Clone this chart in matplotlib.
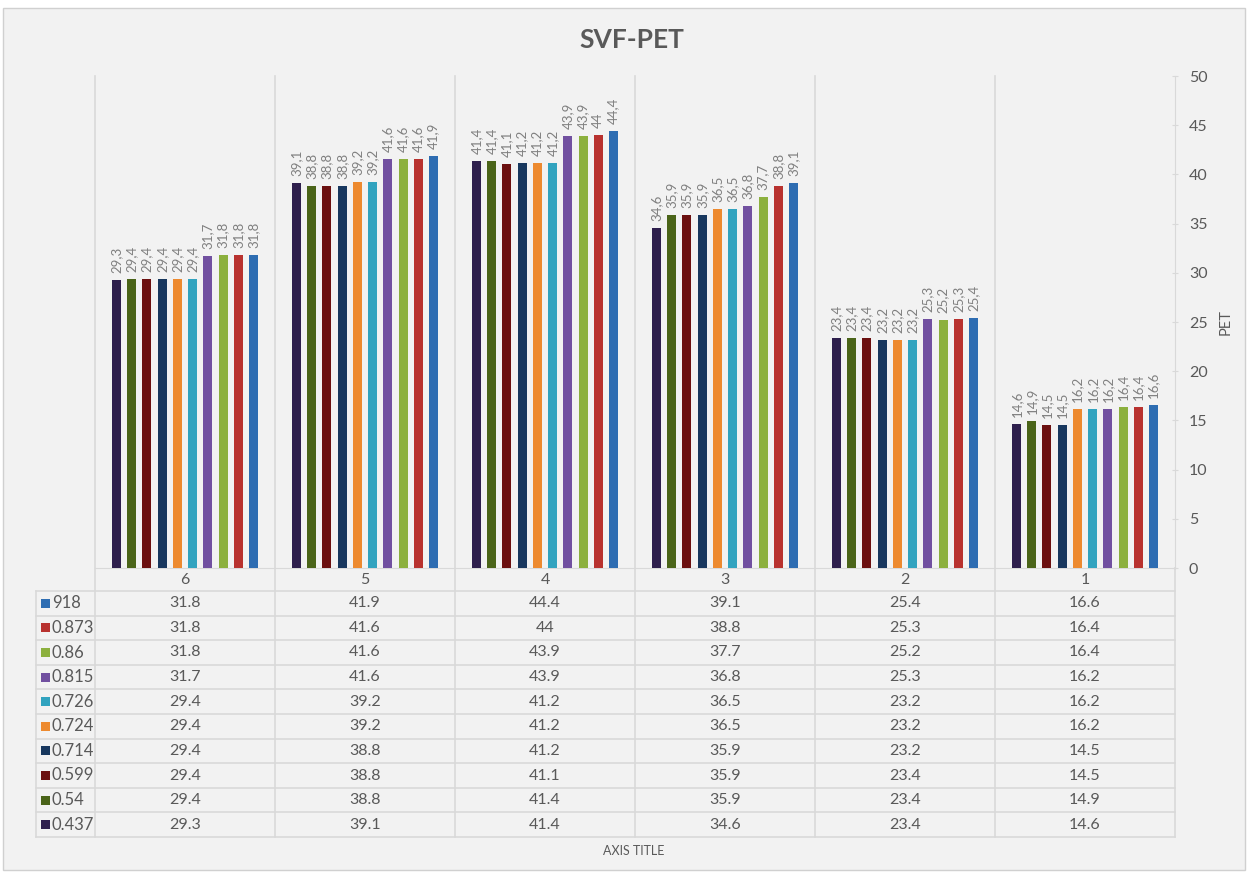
import matplotlib.pyplot as plt
from matplotlib.patches import Rectangle
from matplotlib.lines import Line2D

categories = ['6', '5', '4', '3', '2', '1']
series_names = ['0.437', '0.54', '0.599', '0.714', '0.724', '0.726', '0.815', '0.86', '0.873', '918']
series_colors = ['#2e1f4d', '#4a6419', '#6b1010', '#17375e', '#ed8a2f', '#31a3bf',
                 '#7150a0', '#8cb03e', '#b8322f', '#2e6db2']
values = {
    '0.437': [29.3, 39.1, 41.4, 34.6, 23.4, 14.6],
    '0.54':  [29.4, 38.8, 41.4, 35.9, 23.4, 14.9],
    '0.599': [29.4, 38.8, 41.1, 35.9, 23.4, 14.5],
    '0.714': [29.4, 38.8, 41.2, 35.9, 23.2, 14.5],
    '0.724': [29.4, 39.2, 41.2, 36.5, 23.2, 16.2],
    '0.726': [29.4, 39.2, 41.2, 36.5, 23.2, 16.2],
    '0.815': [31.7, 41.6, 43.9, 36.8, 25.3, 16.2],
    '0.86':  [31.8, 41.6, 43.9, 37.7, 25.2, 16.4],
    '0.873': [31.8, 41.6, 44.0, 38.8, 25.3, 16.4],
    '918':   [31.8, 41.9, 44.4, 39.1, 25.4, 16.6],
}

W, H = 1248, 874
plt.rcParams['font.family'] = ['Lato', 'DejaVu Sans']
txt = '#595959'
grid = '#d9d9d9'

fig = plt.figure(figsize=(W / 100, H / 100), dpi=100)
fig.patch.set_facecolor('white')

def fx(x):
    return x / W

def fy(y):
    return 1 - y / H

# background panel (behind everything)
fig.patches.append(Rectangle((fx(3), fy(870)), fx(1242), 862 / H, transform=fig.transFigure,
                             facecolor='#f2f2f2', edgecolor='#d0d0d0', lw=1, zorder=-5))

px_left, px_right, px_top, px_zero = 95, 1175, 76, 568
ax = fig.add_axes([fx(px_left), fy(px_zero), (px_right - px_left) / W, (px_zero - px_top) / H])
ax.set_facecolor('none')
ax.set_zorder(2)

n = len(series_names)
step = 0.0845
width = 0.05
for i, name in enumerate(series_names):
    xs = [c + 0.5 + (i - (n - 1) / 2) * step for c in range(len(categories))]
    bars = ax.bar(xs, values[name], width=width, color=series_colors[i], zorder=3)
    for b, v in zip(bars, values[name]):
        lab = ('%g' % v).replace('.', ',')
        ax.text(b.get_x() + b.get_width() / 2, v + 0.7, lab, rotation=90, ha='center',
                va='bottom', fontsize=9.5, color='#7f7f7f')

ax.set_xlim(0, len(categories))
ax.set_ylim(0, 50)
ax.set_xticks([])
ax.yaxis.tick_right()
ax.yaxis.set_label_position('right')
ax.set_yticks(range(0, 51, 5))
ax.tick_params(axis='y', direction='inout', length=4, color=grid, labelsize=11.5,
               labelcolor=txt, pad=8)
for s in ['top', 'left']:
    ax.spines[s].set_visible(False)
ax.spines['right'].set_color(grid)
ax.spines['bottom'].set_color(grid)
ax.set_ylabel('PET', fontsize=10.5, color=txt, labelpad=8)

fig.text(fx(632), fy(40), 'SVF-PET', ha='center', va='center', fontsize=19,
         fontweight='bold', color=txt)

# data table
col_w = (px_right - px_left) / len(categories)
head_bot = 591
row_h = 24.6
tab_left = 36
tab_bot = head_bot + row_h * len(series_names)

def fline(x0, y0, x1, y1):
    fig.add_artist(Line2D([fx(x0), fx(x1)], [fy(y0), fy(y1)], color=grid, lw=1.2,
                          transform=fig.transFigure, zorder=1))

for c in range(len(categories) + 1):
    x = px_left + c * col_w
    fline(x, px_top if c < len(categories) else px_zero, x, tab_bot)
fline(tab_left, head_bot, tab_left, tab_bot)
for r in range(len(series_names) + 1):
    y = head_bot + r * row_h
    fline(tab_left, y, px_right, y)

for c, cat in enumerate(categories):
    fig.text(fx(px_left + (c + 0.5) * col_w), fy((px_zero + head_bot) / 2 + 1), cat,
             ha='center', va='center', fontsize=11.5, color=txt)

for r, name in enumerate(series_names[::-1]):
    yc = fy(head_bot + (r + 0.5) * row_h)
    idx = series_names.index(name)
    fig.patches.append(Rectangle((fx(41), yc - 4.5 / H), 9 / W, 9 / H, transform=fig.transFigure,
                                 facecolor=series_colors[idx], edgecolor='none'))
    fig.text(fx(52), yc, name, ha='left', va='center', fontsize=12, color=txt)
    for c in range(len(categories)):
        fig.text(fx(px_left + (c + 0.5) * col_w), yc, '%g' % values[name][c],
                 ha='center', va='center', fontsize=11.5, color=txt)

fig.text(fx(634), fy(851), 'AXIS TITLE', ha='center', va='center', fontsize=9, color=txt)

fig.savefig('out.png', dpi=100)
